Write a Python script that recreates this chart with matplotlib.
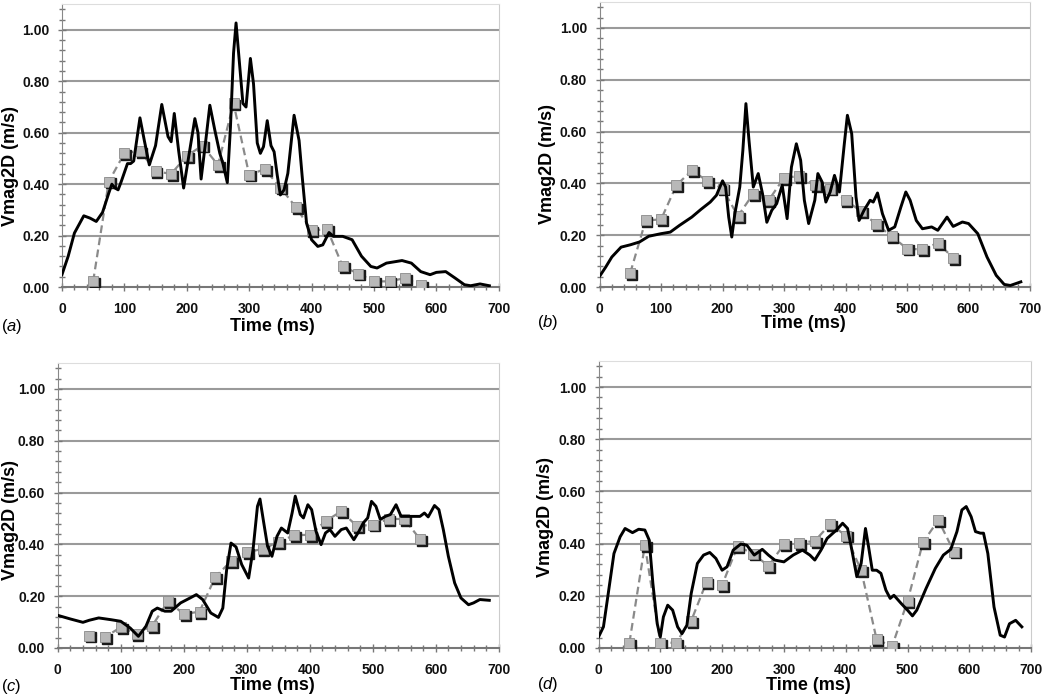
import matplotlib.pyplot as plt
import matplotlib.transforms as mtransforms
from matplotlib.ticker import MultipleLocator

plt.rcParams['font.family'] = ['Liberation Sans', 'DejaVu Sans']
plt.rcParams['mathtext.fontset'] = 'custom'
plt.rcParams['mathtext.rm'] = 'Liberation Sans'
plt.rcParams['mathtext.it'] = 'Liberation Sans:italic'

# time points of the sampled (square) series, ms
t_sq = [50, 75, 100, 125, 150, 175, 200, 225, 250, 275, 300,
        325, 350, 375, 400, 425, 450, 475, 500, 525, 550, 575]

# panel (a)
a_sq = [0.022, 0.41, 0.52, 0.53, 0.45, 0.44, 0.51, 0.55, 0.475, 0.714, 0.437,
        0.458, 0.387, 0.31, 0.22, 0.225, 0.08, 0.052, 0.022, 0.022, 0.035, 0.006]
a_t = [0, 10, 20, 35, 45, 55, 65, 75, 80, 85, 90, 95, 105, 110, 115, 125, 132,
       140, 150, 160, 170, 175, 180, 187, 195, 205, 213, 218, 223, 230, 237,
       245, 253, 258, 265, 270, 275, 279, 285, 290, 295, 302, 307, 313, 318,
       323, 329, 335, 340, 345, 350, 356, 362, 372, 380, 385, 392, 400, 410,
       418, 428, 435, 450, 465, 480, 495, 505, 520, 545, 560, 575, 590, 600,
       615, 630, 645, 655, 670, 685]
a_v = [0.048, 0.12, 0.21, 0.277, 0.268, 0.255, 0.29, 0.365, 0.40, 0.385, 0.378,
       0.41, 0.48, 0.48, 0.49, 0.658, 0.57, 0.475, 0.55, 0.71, 0.585, 0.565,
       0.675, 0.53, 0.385, 0.535, 0.655, 0.60, 0.42, 0.56, 0.707, 0.61, 0.52,
       0.48, 0.406, 0.62, 0.91, 1.027, 0.856, 0.714, 0.70, 0.889, 0.79, 0.56,
       0.52, 0.546, 0.647, 0.55, 0.526, 0.435, 0.358, 0.378, 0.442, 0.668,
       0.57, 0.43, 0.248, 0.184, 0.158, 0.164, 0.212, 0.197, 0.197, 0.184,
       0.12, 0.08, 0.074, 0.093, 0.103, 0.093, 0.06, 0.048, 0.057, 0.06,
       0.035, 0.009, 0.005, 0.012, 0.005]

# panel (b)
b_sq = [0.055, 0.257, 0.261, 0.393, 0.45, 0.41, 0.38, 0.274, 0.36, 0.335, 0.422,
        0.428, 0.393, 0.38, 0.335, 0.293, 0.242, 0.196, 0.148, 0.145, 0.17, 0.113]
b_t = [0, 10, 20, 35, 50, 65, 80, 100, 115, 130, 150, 165, 180, 190, 200, 205,
       210, 215, 220, 228, 233, 238, 243, 250, 258, 265, 272, 280, 288, 297,
       305, 312, 320, 327, 333, 340, 350, 355, 362, 368, 375, 382, 390, 398,
       403, 410, 417, 422, 430, 440, 445, 452, 460, 470, 480, 490, 498, 505,
       515, 525, 540, 550, 565, 575, 590, 600, 615, 630, 645, 658, 668, 685]
b_v = [0.041, 0.077, 0.116, 0.154, 0.163, 0.174, 0.196, 0.206, 0.212, 0.238,
       0.27, 0.30, 0.328, 0.354, 0.41, 0.386, 0.27, 0.193, 0.283, 0.386, 0.527,
       0.708, 0.566, 0.386, 0.438, 0.36, 0.25, 0.296, 0.322, 0.393, 0.264,
       0.463, 0.553, 0.489, 0.335, 0.245, 0.335, 0.438, 0.405, 0.328, 0.367,
       0.431, 0.367, 0.553, 0.663, 0.592, 0.348, 0.257, 0.296, 0.335, 0.328,
       0.363, 0.283, 0.219, 0.232, 0.309, 0.367, 0.335, 0.257, 0.225, 0.232,
       0.219, 0.27, 0.234, 0.251, 0.245, 0.206, 0.116, 0.045, 0.01, 0.006, 0.02]

# panel (c)
c_sq = [0.048, 0.042, 0.08, 0.055, 0.086, 0.18, 0.131, 0.14, 0.274, 0.335, 0.37,
        0.382, 0.409, 0.435, 0.437, 0.489, 0.528, 0.47, 0.476, 0.498, 0.498, 0.42]
c_t = [0, 20, 40, 50, 65, 85, 100, 115, 128, 140, 150, 158, 170, 180, 195, 210,
       220, 230, 243, 255, 262, 268, 275, 283, 292, 303, 310, 317, 321, 327,
       333, 340, 348, 355, 365, 372, 377, 385, 390, 397, 403, 410, 418, 425,
       432, 440, 450, 458, 470, 478, 485, 492, 498, 505, 512, 520, 528, 537,
       545, 560, 575, 582, 588, 598, 605, 612, 620, 630, 640, 652, 660, 670, 685]
c_v = [0.126, 0.112, 0.099, 0.107, 0.116, 0.109, 0.103, 0.077, 0.045, 0.084,
       0.142, 0.154, 0.142, 0.142, 0.174, 0.193, 0.206, 0.187, 0.135, 0.118,
       0.154, 0.30, 0.405, 0.39, 0.322, 0.27, 0.38, 0.547, 0.575, 0.483, 0.393,
       0.354, 0.431, 0.463, 0.444, 0.521, 0.586, 0.515, 0.502, 0.553, 0.534,
       0.45, 0.399, 0.444, 0.457, 0.431, 0.457, 0.463, 0.418, 0.45, 0.483,
       0.502, 0.566, 0.547, 0.496, 0.508, 0.515, 0.553, 0.508, 0.508, 0.508,
       0.521, 0.506, 0.55, 0.534, 0.457, 0.354, 0.251, 0.193, 0.167, 0.174,
       0.187, 0.184]

# panel (d)
d_sq = [0.02, 0.394, 0.02, 0.02, 0.104, 0.254, 0.241, 0.39, 0.362, 0.314, 0.397,
        0.403, 0.41, 0.475, 0.431, 0.298, 0.033, 0.006, 0.179, 0.405, 0.49, 0.369]
d_t = [0, 8, 15, 25, 35, 43, 55, 65, 75, 82, 88, 95, 100, 105, 112, 120, 128,
       135, 143, 150, 160, 170, 180, 190, 200, 208, 218, 230, 240, 252, 265,
       275, 285, 300, 315, 330, 342, 350, 360, 370, 385, 395, 403, 410, 418,
       425, 432, 437, 443, 450, 457, 465, 472, 478, 490, 500, 508, 515, 530,
       545, 558, 570, 580, 588, 595, 603, 610, 618, 623, 630, 640, 650, 657,
       665, 675, 685]
d_v = [0.042, 0.081, 0.196, 0.362, 0.426, 0.458, 0.442, 0.455, 0.452, 0.414,
       0.247, 0.093, 0.042, 0.119, 0.164, 0.145, 0.081, 0.055, 0.087, 0.209,
       0.324, 0.356, 0.366, 0.343, 0.298, 0.311, 0.375, 0.398, 0.394, 0.356,
       0.378, 0.356, 0.337, 0.33, 0.356, 0.375, 0.356, 0.337, 0.375, 0.42,
       0.452, 0.478, 0.458, 0.375, 0.273, 0.324, 0.458, 0.388, 0.298, 0.298,
       0.286, 0.222, 0.19, 0.202, 0.17, 0.145, 0.123, 0.145, 0.228, 0.305,
       0.356, 0.378, 0.446, 0.529, 0.542, 0.503, 0.446, 0.44, 0.44, 0.362,
       0.157, 0.049, 0.042, 0.093, 0.106, 0.081]

W, H = 1050, 696

# letter, data, axes rect, (ylabel x,y), (xlabel x,y), (letter x,y) in pixels
panels = [
    ('a', a_t, a_v, a_sq, [0.059, 0.5876, 0.416, 0.4064], (11, 166), (272, 326), (1, 326)),
    ('b', b_t, b_v, b_sq, [0.571, 0.5876, 0.410, 0.4094], (548, 164), (803, 324), (537, 322)),
    ('c', c_t, c_v, c_sq, [0.055, 0.0690, 0.420, 0.4094], (11, 520), (272, 686), (1, 686)),
    ('d', d_t, d_v, d_sq, [0.570, 0.0690, 0.412, 0.4124], (546, 517), (808, 686), (537, 685)),
]

fig = plt.figure(figsize=(W / 100, H / 100), dpi=100)

for letter, t, v, sq, rect, ylpos, xlpos, lpos in panels:
    ax = fig.add_axes(rect)
    ax.set_xlim(0, 700)
    ax.set_ylim(0, 1.1)
    for g in [0.2, 0.4, 0.6, 0.8, 1.0]:
        ax.axhline(g, color='#9a9a9a', lw=1.5, zorder=0)

    ax.plot(t_sq, sq, color='#8a8a8a', lw=1.6, ls=(0, (3.5, 2)), zorder=2)
    shadow = mtransforms.offset_copy(ax.transData, fig=fig, x=1.3, y=-1.3, units='points')
    ax.plot(t_sq, sq, ls='none', marker='s', ms=6.5, color='#1a1a1a',
            transform=shadow, zorder=3)
    ax.plot(t_sq, sq, ls='none', marker='s', ms=6.5, mfc='#b8b8b8',
            mec='#8a8a8a', mew=0.6, zorder=4)
    ax.plot(t, v, color='black', lw=2.1, zorder=5, solid_joinstyle='round')

    ax.xaxis.set_major_locator(MultipleLocator(100))
    ax.xaxis.set_minor_locator(MultipleLocator(20))
    ax.yaxis.set_minor_locator(MultipleLocator(0.04))
    ax.set_yticks([0, 0.2, 0.4, 0.6, 0.8, 1.0])
    ax.set_yticklabels(['0.00', '0.20', '0.40', '0.60', '0.80', '1.00'])
    ax.tick_params(which='both', direction='inout', color='#777777', width=1.0)
    ax.tick_params(which='major', length=6, labelsize=10)
    ax.tick_params(which='minor', length=4)
    ax.tick_params(axis='x', which='major', pad=7.5)
    ax.tick_params(axis='y', which='major', pad=6)
    for lab in ax.get_xticklabels() + ax.get_yticklabels():
        lab.set_fontweight('bold')
        lab.set_color('#111111')

    ax.spines['left'].set_color('#888888')
    ax.spines['bottom'].set_color('#777777')
    ax.spines['bottom'].set_linewidth(1.5)
    ax.spines['top'].set_color('#dddddd')
    ax.spines['right'].set_color('#cccccc')

    fig.text(ylpos[0] / W, 1 - ylpos[1] / H, 'Vmag2D (m/s)', rotation=90,
             fontsize=13, fontweight='bold', ha='center', va='center')
    fig.text(xlpos[0] / W, 1 - xlpos[1] / H, 'Time (ms)',
             fontsize=13, fontweight='bold', ha='center', va='center')
    fig.text(lpos[0] / W, 1 - lpos[1] / H,
             r'$\mathrm{(}\mathit{' + letter + r'}\mathrm{)}$',
             fontsize=12, ha='left', va='center')

fig.savefig('out.png', dpi=100)
